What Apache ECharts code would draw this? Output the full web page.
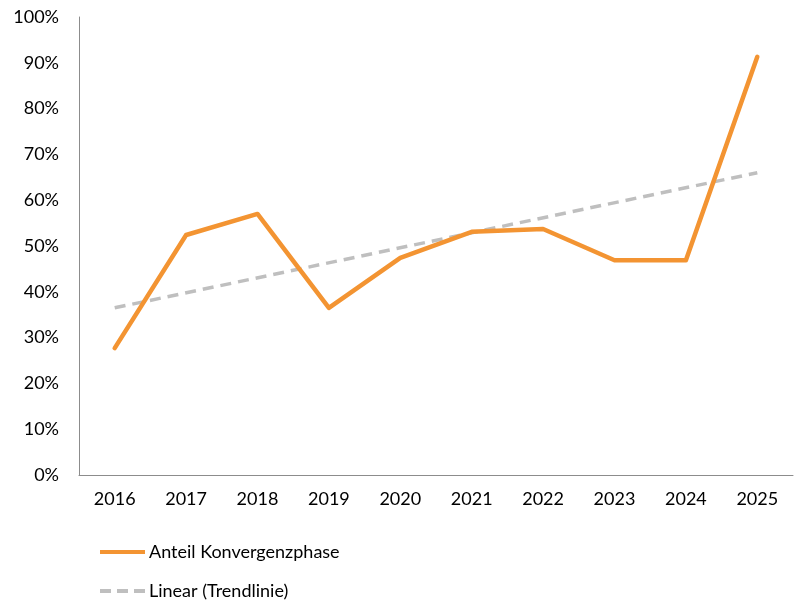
<!DOCTYPE html>
<html>
<head>
<meta charset="utf-8">
<script src="https://cdn.jsdelivr.net/npm/echarts@6/dist/echarts.min.js"></script>
<style>html,body{margin:0;padding:0;background:#fff}#c{width:794px;height:600px}</style>
</head>
<body>
<div id="c"></div>
<script>
const categories = ['2016','2017','2018','2019','2020','2021','2022','2023','2024','2025'];
const anteilKonvergenzphase = [27.7, 52.4, 57.0, 36.5, 47.4, 53.1, 53.7, 46.9, 46.9, 91.3];
const trendlinie = [36.5, null, null, null, null, null, null, null, null, 66.0];
const yTicks = [0, 100, 10];

const ORANGE = '#F39432';
const GREY = '#BFBFBF';
const chart = echarts.init(document.getElementById('c'));
const font = 'Lato';
const legendText = { color: '#000', fontFamily: font, fontSize: 18, padding: [0,0,0,-1] };
chart.setOption({
  animation: false,
  grid: { left: 79, right: 1, top: 17, bottom: 125, containLabel: false },
  xAxis: {
    type: 'category',
    data: categories,
    boundaryGap: true,
    axisLine: { lineStyle: { color: '#8c8c8c', width: 1 } },
    axisTick: { show: false },
    axisLabel: { color: '#000', fontFamily: font, fontSize: 18, margin: 15 }
  },
  yAxis: {
    type: 'value',
    min: yTicks[0], max: yTicks[1], interval: yTicks[2],
    axisLine: { show: true, lineStyle: { color: '#8c8c8c', width: 1 } },
    axisTick: { show: false },
    splitLine: { show: false },
    axisLabel: { color: '#000', fontFamily: font, fontSize: 18, margin: 20, formatter: '{value}%' }
  },
  legend: [
    {
      left: 100, top: 543, padding: 0,
      itemWidth: 45, itemHeight: 4, itemGap: 0,
      textStyle: legendText,
      data: [{ name: 'Anteil Konvergenzphase', icon: 'path://M0,0h45v4h-45z', itemStyle: { color: ORANGE, borderWidth: 0 } }]
    },
    {
      left: 100, top: 582, padding: 0,
      itemWidth: 45, itemHeight: 4, itemGap: 0,
      textStyle: legendText,
      data: [{ name: 'Linear (Trendlinie)', icon: 'path://M0,0h11v4h-11z M17,0h11v4h-11z M34,0h11v4h-11z', itemStyle: { color: GREY, borderWidth: 0 } }]
    }
  ],
  series: [
    {
      name: 'Linear (Trendlinie)',
      type: 'line',
      data: trendlinie,
      connectNulls: true,
      symbol: 'none',
      lineStyle: { color: GREY, width: 3.5, type: [11, 7] },
      itemStyle: { color: GREY },
      z: 2
    },
    {
      name: 'Anteil Konvergenzphase',
      type: 'line',
      data: anteilKonvergenzphase,
      symbol: 'none',
      lineStyle: { color: ORANGE, width: 4.5, cap: 'round', join: 'round' },
      itemStyle: { color: ORANGE },
      z: 3
    }
  ]
});
</script>
</body>
</html>
